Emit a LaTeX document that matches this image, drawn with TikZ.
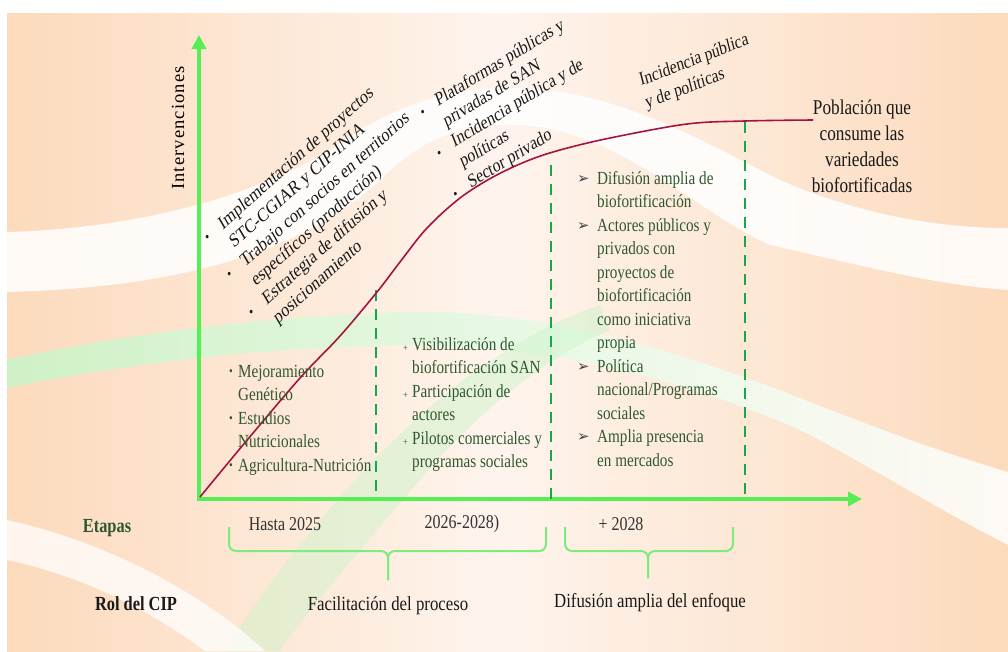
\documentclass[tikz,border=0pt]{standalone}
\usepackage{fontspec}
\setmainfont{Liberation Serif}
\newfontfamily\cf[FakeStretch=0.82]{Liberation Serif}
\newfontfamily\cff[FakeStretch=0.84]{Liberation Serif}
\newfontfamily\lsf[LetterSpace=6]{Liberation Serif}
\newfontfamily\djv{DejaVu Sans}
\usetikzlibrary{arrows.meta}
\definecolor{peach}{RGB}{252,218,188}
\definecolor{peachlight}{RGB}{254,244,237}
\definecolor{axisgreen}{RGB}{85,238,85}
\definecolor{dashgreen}{RGB}{25,165,75}
\definecolor{curvered}{RGB}{165,20,65}
\definecolor{bracegreen}{RGB}{125,235,125}
\definecolor{txtgreen}{RGB}{48,88,48}
\definecolor{bandgreen}{RGB}{200,245,200}
\newcommand{\dbul}{\smash{\raisebox{1pt}{\scalebox{0.75}{\textbullet}}}}
\newcommand{\lbul}{\smash{\raisebox{-1.5pt}{\scalebox{0.75}{\textbullet}}}}
\newcommand{\cbul}{\smash{\raisebox{1.5pt}{\scalebox{0.7}{\textbullet}}}}
\newcommand{\pbul}{\smash{\raisebox{-1pt}{\scalebox{0.55}{+}}}}
\newcommand{\abul}{\smash{\raisebox{1pt}{\scalebox{0.8}{\djv\color{black!75}➢}}}}
\begin{document}
\begin{tikzpicture}[x=1pt,y=-1pt,
  axisline/.style={line width=4pt, draw=axisgreen, -{Triangle[length=14pt,width=14pt]}},
  dashline/.style={line width=2.8pt, draw=dashgreen, dash pattern=on 11pt off 8pt},
  scurve/.style={line width=1.6pt, draw=curvered},
  bracepath/.style={line width=2pt, draw=bracegreen, rounded corners=7pt},
  coltext/.style={inner sep=0pt, text=txtgreen, font=\cf\fontsize{18.5}{23.5}\selectfont, anchor=north west},
  diagtext/.style={inner sep=0pt, text=black!90, transform shape, anchor=base west},
  poptext/.style={inner sep=0pt, text=black!90, font=\cf\fontsize{21}{26}\selectfont, align=center},
  etapa/.style={inner sep=0pt, text=black!80, font=\cf\fontsize{19.5}{20}\selectfont},
  rol/.style={inner sep=0pt, text=black!90, font=\cff\fontsize{20}{22}\selectfont},
  band/.style={opacity=0.85}
]
\useasboundingbox (0,0) rectangle (1008,651);
\fill[white] (0,0) rectangle (1008,651);
\shade[left color=peach, right color=peachlight] (7,13) rectangle (500,651);
\shade[left color=peachlight, right color=peach] (500,13) rectangle (1008,651);

% decorative swooshes
\begin{scope}
\clip (7,13) rectangle (1008,651);
\shade[band, left color=white, middle color=bandgreen, right color=white]
  (7,232) .. controls (150,228) and (280,190) .. (360,130)
  .. controls (420,95) and (470,86) .. (520,88)
  .. controls (620,92) and (700,140) .. (780,180)
  .. controls (860,215) and (940,228) .. (1008,228)
  -- (1008,290)
  .. controls (930,285) and (840,260) .. (770,245)
  .. controls (700,215) and (620,130) .. (520,125)
  .. controls (460,122) and (420,140) .. (380,180)
  .. controls (300,255) and (170,288) .. (7,292) -- cycle;
\shade[band, left color=bandgreen, right color=white]
  (7,360) .. controls (120,335) and (250,318) .. (400,312)
  .. controls (520,308) and (650,340) .. (800,398)
  .. controls (880,430) and (950,455) .. (1008,472)
  -- (1008,545)
  .. controls (930,505) and (860,460) .. (800,430)
  .. controls (650,365) and (520,345) .. (400,345)
  .. controls (250,348) and (120,365) .. (7,388) -- cycle;
\fill[bandgreen, opacity=0.45]
  (225,651) .. controls (280,560) and (380,440) .. (470,375)
  .. controls (520,340) and (560,318) .. (600,305)
  -- (610,330) .. controls (540,360) and (470,420) .. (420,480)
  .. controls (360,550) and (300,620) .. (280,651) -- cycle;
\fill[band, white, opacity=0.75]
  (7,520) .. controls (100,540) and (200,590) .. (265,651)
  -- (205,651) .. controls (150,610) and (80,575) .. (7,560) -- cycle;
\end{scope}

% axes
\coordinate (O) at (199,499);
\coordinate (ytop) at (199,35);
\coordinate (xend) at (862,499);
\draw[axisline] (199,501) -- (ytop);
\draw[axisline] (197,499) -- (xend);

% dashed separators
\coordinate (d1t) at (376,290); \coordinate (d1b) at (376,499);
\coordinate (d2t) at (551,165); \coordinate (d2b) at (551,499);
\coordinate (d3t) at (745,122); \coordinate (d3b) at (745,499);
\draw[dashline] (d1t) -- (d1b);
\draw[dashline] (d2t) -- (d2b);
\draw[dashline] (d3t) -- (d3b);

% S-curve
\draw[scurve] plot[smooth, tension=0.55] coordinates {(200,497) (243,445) (300,378) (340,336) (377,292) (400,262) (427,228) (460,198) (493,177) (527,161) (560,150) (610,138) (687,124) (745,121) (813,120)};

% axis label
\node[inner sep=0pt, rotate=90, text=black, font=\lsf\fontsize{18.5}{20}\selectfont] (yl) at (178,128) {Intervenciones};

% column texts
\node[coltext] (c1) at (229,360.5) {\begin{tabular}{@{}p{9pt}@{}l@{}}
\cbul & Mejoramiento\\ & Genético\\ \cbul & Estudios\\ & Nutricionales\\ \cbul & Agricultura-Nutrición\end{tabular}};
\node[coltext] (c2) at (403,333.5) {\begin{tabular}{@{}p{9pt}@{}l@{}}
\pbul & Visibilización de\\ & biofortificación SAN\\ \pbul & Participación de\\ & actores\\ \pbul & Pilotos comerciales y\\ & programas sociales\end{tabular}};
\node[coltext] (c3) at (577,167.5) {\begin{tabular}{@{}p{20pt}@{}l@{}}
\abul & Difusión amplia de\\ & biofortificación\\ \abul & Actores públicos y\\ & privados con\\ & proyectos de\\ & biofortificación\\ & como iniciativa\\ & propia\\ \abul & Política\\ & nacional/Programas\\ & sociales\\ \abul & Amplia presencia\\ & en mercados\end{tabular}};

% diagonal texts (rotated, then compressed horizontally like the slide)
\begin{scope}[shift={(208.3,243.1)}, xscale=0.81]
\node[diagtext, rotate=35.8, font=\fontsize{19.5}{23.2}\selectfont] (t1) at (0,0) {\begin{tabular}[t]{@{}p{22pt}@{}l@{}}
\dbul & Implementación de proyectos\\ & STC-CGIAR y CIP-INIA\\ \dbul & Trabajo con socios en territorios\\ & específicos (producción)\\ \dbul & Estrategia de difusión y\\ & posicionamiento\end{tabular}};
\end{scope}
\begin{scope}[shift={(422,116.5)}, xscale=0.81]
\node[diagtext, rotate=26.3, font=\fontsize{19.2}{22.8}\selectfont] (t2) at (0,0) {\begin{tabular}[t]{@{}p{22pt}@{}l@{}}
\lbul & Plataformas públicas y\\ & privadas de SAN\\ \lbul & Incidencia pública y de\\ & políticas\\ \lbul & Sector privado\end{tabular}};
\end{scope}
\begin{scope}[shift={(641,86)}, xscale=0.81]
\node[diagtext, rotate=17.3, font=\fontsize{19}{24}\selectfont] (t3) at (0,0) {\begin{tabular}[t]{@{}l@{}}Incidencia pública\\y de políticas\end{tabular}};
\end{scope}

% population label
\node[poptext] (pop) at (862,146) {Población que\\consume las\\variedades\\biofortificadas};

% stages
\node[inner sep=0pt, text=txtgreen, font=\cf\bfseries\fontsize{20}{20}\selectfont] (etapas) at (107,528) {Etapas};
\node[etapa] (e1) at (285,524) {Hasta 2025};
\node[etapa] (e2) at (462,524) {2026-2028)};
\node[etapa] (e3) at (621,524) {+ 2028};

% braces
\coordinate (b1l) at (229,527); \coordinate (b1r) at (546,527); \coordinate (b1m) at (388,580);
\coordinate (b2l) at (565,527); \coordinate (b2r) at (733,527); \coordinate (b2m) at (648,578);
\draw[bracepath] (b1l) -- (229,551) -- (388,551) -- (b1m);
\draw[bracepath] (b1r) -- (546,551) -- (388,551) -- (b1m);
\draw[bracepath] (b2l) -- (565,551) -- (648,551) -- (b2m);
\draw[bracepath] (b2r) -- (733,551) -- (648,551) -- (b2m);

% role
\node[inner sep=0pt, text=black!90, font=\cf\bfseries\fontsize{20}{20}\selectfont] (rolcip) at (136,604) {Rol del CIP};
\node[rol] (r1) at (388,606) {Facilitación del proceso};
\node[rol] (r2) at (650,603) {Difusión amplia del enfoque};
\end{tikzpicture}
\end{document}
